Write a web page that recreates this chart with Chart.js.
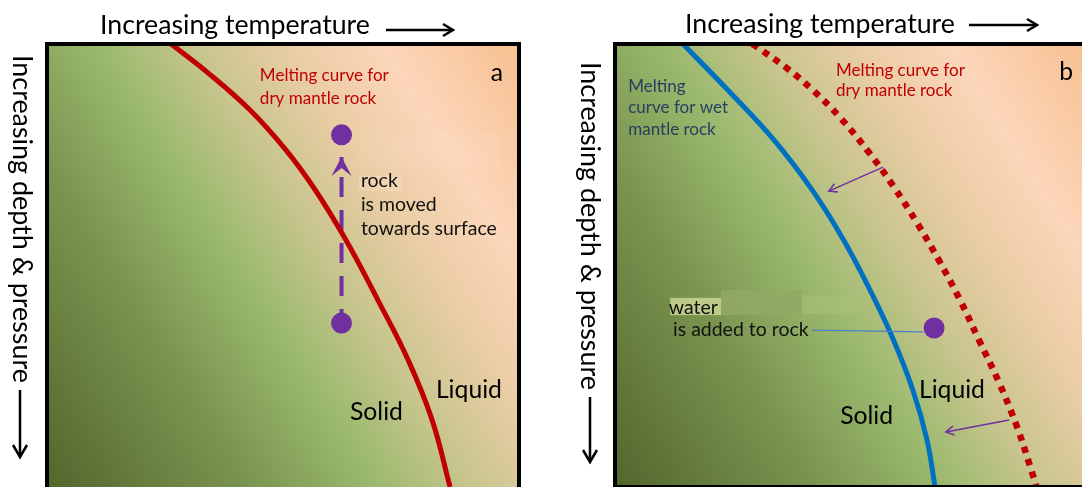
<!DOCTYPE html>
<html><head><meta charset="utf-8">
<script src="https://cdn.jsdelivr.net/npm/chart.js@4.4.1/dist/chart.umd.min.js"></script>
<style>
html,body{margin:0;padding:0;background:#ffffff;overflow:hidden;width:1082px;height:487px;position:relative;}
canvas{position:absolute;top:0;}
#ca{left:0px} #cb{left:568px}
</style></head><body>
<canvas id="ca" width="541" height="487"></canvas>
<canvas id="cb" width="541" height="487"></canvas>
<script>
// ===== DATA (x = temperature, y = depth/pressure; relative units 0-100) =====
// Panel a: dry mantle melting curve
const dryDepthA = [0, 6.5, 14.9, 23.9, 32.9, 44.2, 57.8, 71.3, 84.9, 100];
const dryTempA  = [26.3, 34.1, 43.0, 50.6, 56.8, 63.3, 70.1, 76.5, 81.6, 85.4];
// Panel a: rock moved towards surface (start, end, arrow tip)
const rockStartA    = [62.4, 63.0];
const rockEndA      = [62.4, 20.5];
const rockArrowTipA = [62.4, 25.5];

// Panel b: wet mantle melting curve
const wetDepthB = [0, 10.4, 21.7, 33.0, 44.2, 55.5, 66.8, 78.1, 89.4, 100];
const wetTempB  = [14.4, 23.9, 33.7, 41.8, 48.4, 54.0, 59.0, 63.1, 66.1, 67.8];
// Panel b: dry mantle melting curve (dotted)
const dryDepthB = [0, 0.7, 5.2, 10.4, 16.5, 24.6, 32.3, 40.4, 48.8, 57.8, 66.8, 76.5, 86.5, 95.5, 100];
const dryTempB  = [29.1, 30.1, 36.1, 41.9, 47.6, 53.9, 59.1, 64.0, 68.6, 73.1, 77.1, 81.4, 85.2, 88.0, 89.3];
// Panel b: rock with added water
const rockB = [67.6, 64.1];
// Panel b: shift arrows (from dry curve to wet curve)
const shiftFromTempB  = [56.8, 83.5];
const shiftFromDepthB = [27.8, 84.9];
const shiftToTempB    = [45.3, 70.1];
const shiftToDepthB   = [33.2, 87.6];
// Panel b: pointer line from label to the rock
const pointerTempB  = [41.7, 65.3];
const pointerDepthB = [64.6, 65.0];

// ===== STYLE =====
const RED = '#C00000', BLUE = '#0070C0', PURPLE = '#7030A0', WETTXT = '#254061';
const FAM = 'Lato, "Open Sans", sans-serif';
const mctx = document.createElement('canvas').getContext('2d');
function fit(text, width){ mctx.font = '100px ' + FAM; return 100 * width / mctx.measureText(text).width; }
const SIZES = {
  title: fit('Increasing temperature', 270),
  vert:  fit('Increasing depth & pressure', 328),
  note:  fit('Melting curve for', 129),
  body:  fit('towards surface', 136),
  big:   fit('Liquid', 66)
};

function pts(xs, ys){ return xs.map((x,i)=>({x, y: ys[i]})); }

// labels in data coordinates
const labelsA = [
  {t:'Melting curve for', x:45.1, y:7.2, c:RED, s:'note'},
  {t:'dry mantle rock',   x:45.1, y:12.2, c:RED, s:'note'},
  {t:'a', x:95.3, y:6.5, c:'#000', s:'big', al:'center'},
  {t:'rock', x:66.5, y:30.9, c:'#111', s:'body'},
  {t:'is moved', x:66.5, y:36.3, c:'#111', s:'body'},
  {t:'towards surface', x:66.5, y:41.8, c:'#111', s:'body'},
  {t:'Solid', x:64.2, y:83.1, c:'#000', s:'big'},
  {t:'Liquid', x:82.4, y:78.1, c:'#000', s:'big'}
];
const labelsB = [
  {t:'Melting', x:2.8, y:9.7, c:WETTXT, s:'note'},
  {t:'curve for wet', x:2.8, y:14.4, c:WETTXT, s:'note'},
  {t:'mantle rock', x:2.8, y:19.4, c:WETTXT, s:'note'},
  {t:'Melting curve for', x:46.8, y:5.9, c:RED, s:'note'},
  {t:'dry mantle rock', x:46.8, y:10.6, c:RED, s:'note'},
  {t:'b', x:95.6, y:6.3, c:'#000', s:'big', al:'center'},
  {t:'water', x:11.4, y:59.6, c:'#111', s:'body'},
  {t:'is added to rock', x:12.3, y:64.6, c:'#111', s:'body'},
  {t:'Liquid', x:64.4, y:78.1, c:'#000', s:'big'},
  {t:'Solid', x:47.7, y:84.0, c:'#000', s:'big'}
];
// soft patches behind labels (data coords: x0,x1,y0,y1,color)
const patchesA = [
  [66.1, 96.0, 20.1, 27.8, 'rgba(255,240,230,0.08)'],
  [66.1, 75.2, 29.8, 33.2, 'rgba(255,228,208,0.3)']
];
const patchesB = [
  [11.7, 22.5, 57.3, 61.2, 'rgba(200,212,148,0.85)'],
  [22.5, 39.6, 55.5, 61.2, 'rgba(146,170,100,0.8)'],
  [39.6, 50.6, 56.7, 60.9, 'rgba(170,192,122,0.6)']
];
// outside-frame layout (canvas pixels)
const frameA = {title:[100,25], tArrow:[386,453,30], vert:[22,55], vArrow:[20,390,457], closeBottom:false};
const frameB = {title:[117,24], tArrow:[401,469,25], vert:[22,62], vArrow:[22,397,462], closeBottom:true};

function openHead(ctx, x1,y1,x2,y2,len,half){
  const a = Math.atan2(y2-y1, x2-x1), c=Math.cos(a), s=Math.sin(a);
  ctx.beginPath();
  ctx.moveTo(x2 - len*c + half*s, y2 - len*s - half*c);
  ctx.lineTo(x2, y2);
  ctx.lineTo(x2 - len*c - half*s, y2 - len*s + half*c);
  ctx.stroke();
}

function bgPlugin(patches){
  return {
    id:'bg',
    beforeDatasetsDraw(chart){
      const {ctx, chartArea:a, scales:{x, y}} = chart;
      ctx.save();
      ctx.beginPath(); ctx.rect(a.left, a.top, a.right-a.left, a.bottom-a.top); ctx.clip();
      const ux=0.845, uy=-0.535, s0=-230, s1=420;
      const g = ctx.createLinearGradient(s0*ux, s0*uy, s1*ux, s1*uy);
      const stops = [[-222,'#52662C'],[-50,'#7A9450'],[60,'#9BBA6E'],[140,'#C8C58E'],[220,'#EACDA5'],[300,'#FCD6BA'],[415,'#F7C090']];
      stops.forEach(([s,c])=>g.addColorStop((s-s0)/(s1-s0), c));
      ctx.fillStyle = g;
      ctx.fillRect(a.left, a.top, a.right-a.left, a.bottom-a.top);
      patches.forEach(([x0,x1,y0,y1,c])=>{
        const px0=x.getPixelForValue(x0), px1=x.getPixelForValue(x1);
        const py0=y.getPixelForValue(y0), py1=y.getPixelForValue(y1);
        ctx.fillStyle=c; ctx.fillRect(px0, py0, px1-px0, py1-py0);
      });
      ctx.restore();
    }
  };
}

function decorPlugin(labels, frame, extra){
  return {
    id:'decor',
    afterDatasetsDraw(chart){
      const {ctx, chartArea:a, scales:{x, y}} = chart;
      ctx.save();
      if (extra) extra(ctx, x, y);
      // labels
      ctx.textBaseline = 'middle';
      labels.forEach(l=>{
        ctx.font = SIZES[l.s].toFixed(2) + 'px ' + FAM;
        ctx.fillStyle = l.c;
        ctx.textAlign = l.al || 'left';
        ctx.fillText(l.t, x.getPixelForValue(l.x), y.getPixelForValue(l.y));
      });
      // frame
      ctx.strokeStyle = '#000'; ctx.lineWidth = 4;
      const h = frame.closeBottom ? (a.bottom - a.top) : (a.bottom - a.top + 20);
      ctx.strokeRect(a.left, a.top, a.right - a.left, h);
      // title + arrow
      ctx.fillStyle = '#000';
      ctx.font = SIZES.title.toFixed(2) + 'px ' + FAM;
      ctx.textAlign = 'left';
      ctx.fillText('Increasing temperature', frame.title[0], frame.title[1]);
      ctx.lineWidth = 2.5; ctx.lineCap = 'butt'; ctx.lineJoin = 'miter';
      const [tx0, tx1, ty] = frame.tArrow;
      ctx.beginPath(); ctx.moveTo(tx0, ty); ctx.lineTo(tx1 - 1, ty); ctx.stroke();
      openHead(ctx, tx0, ty, tx1, ty, 10, 6);
      // vertical label + arrow
      ctx.save();
      ctx.translate(frame.vert[0], frame.vert[1]);
      ctx.rotate(Math.PI/2);
      ctx.font = SIZES.vert.toFixed(2) + 'px ' + FAM;
      ctx.fillText('Increasing depth & pressure', 0, 0);
      ctx.restore();
      const [vx, vy0, vy1] = frame.vArrow;
      ctx.beginPath(); ctx.moveTo(vx, vy0); ctx.lineTo(vx, vy1 - 1); ctx.stroke();
      openHead(ctx, vx, vy0, vx, vy1, 12, 7);
      ctx.restore();
    }
  };
}

function baseOptions(){
  return {
    responsive:false, animation:false, events:[],
    layout:{autoPadding:false, padding:{left:47, top:44, right:22, bottom:0}},
    scales:{
      x:{type:'linear', min:0, max:100, display:false},
      y:{type:'linear', min:0, max:100, reverse:true, display:false}
    },
    plugins:{legend:{display:false}, tooltip:{enabled:false}},
    elements:{point:{radius:0}}
  };
}

// ===== Panel a =====
new Chart(document.getElementById('ca'), {
  type:'scatter',
  data:{datasets:[
    {label:'rock', data:[{x:rockEndA[0],y:rockEndA[1]},{x:rockStartA[0],y:rockStartA[1]}],
     showLine:false, pointRadius:10.5, pointBackgroundColor:PURPLE, pointBorderWidth:0, order:0},
    {label:'dry melting curve', data:pts(dryTempA, dryDepthA), showLine:true, borderColor:RED,
     borderWidth:5, tension:0.4, pointRadius:0, order:1},
    {label:'rock path', data:[{x:rockArrowTipA[0],y:rockArrowTipA[1]},{x:rockStartA[0],y:rockStartA[1]}],
     showLine:true, borderColor:PURPLE, borderWidth:4, borderDash:[20,13], borderDashOffset:13,
     pointRadius:0, order:2}
  ]},
  options: baseOptions(),
  plugins:[bgPlugin(patchesA), decorPlugin(labelsA, frameA, (ctx, x, y)=>{
    const tx = x.getPixelForValue(rockArrowTipA[0]), ty = y.getPixelForValue(rockArrowTipA[1]);
    ctx.fillStyle = PURPLE;
    ctx.beginPath();
    ctx.moveTo(tx, ty); ctx.lineTo(tx + 10, ty + 19); ctx.lineTo(tx, ty + 11); ctx.lineTo(tx - 10, ty + 19);
    ctx.closePath(); ctx.fill();
  })]
});

// ===== Panel b =====
const shiftSets = shiftFromTempB.map((_, i)=>({
  label:'shift'+i,
  data:[{x:shiftFromTempB[i], y:shiftFromDepthB[i]},{x:shiftToTempB[i], y:shiftToDepthB[i]}],
  showLine:true, borderColor:PURPLE, borderWidth:1.5, pointRadius:0, order:1
}));
new Chart(document.getElementById('cb'), {
  type:'scatter',
  data:{datasets:[
    {label:'rock', data:[{x:rockB[0], y:rockB[1]}], showLine:false, pointRadius:10.5,
     pointBackgroundColor:PURPLE, pointBorderWidth:0, order:0},
    ...shiftSets,
    {label:'pointer', data:pts(pointerTempB, pointerDepthB), showLine:true, borderColor:'#4F7FC8',
     borderWidth:1.2, pointRadius:0, order:2},
    {label:'wet melting curve', data:pts(wetTempB, wetDepthB), showLine:true, borderColor:BLUE,
     borderWidth:5, tension:0.4, pointRadius:0, order:3},
    {label:'dry melting curve', data:pts(dryTempB, dryDepthB), showLine:true, borderColor:RED,
     borderWidth:6.5, borderDash:[6.5,6.5], borderCapStyle:'butt', tension:0.4,
     pointRadius:0, order:4}
  ]},
  options: baseOptions(),
  plugins:[bgPlugin(patchesB), decorPlugin(labelsB, frameB, (ctx, x, y)=>{
    ctx.strokeStyle = PURPLE; ctx.lineWidth = 1.5;
    shiftFromTempB.forEach((_, i)=>{
      openHead(ctx, x.getPixelForValue(shiftFromTempB[i]), y.getPixelForValue(shiftFromDepthB[i]),
               x.getPixelForValue(shiftToTempB[i]), y.getPixelForValue(shiftToDepthB[i]), 8, 4.5);
    });
  })]
});
</script>
</body></html>
